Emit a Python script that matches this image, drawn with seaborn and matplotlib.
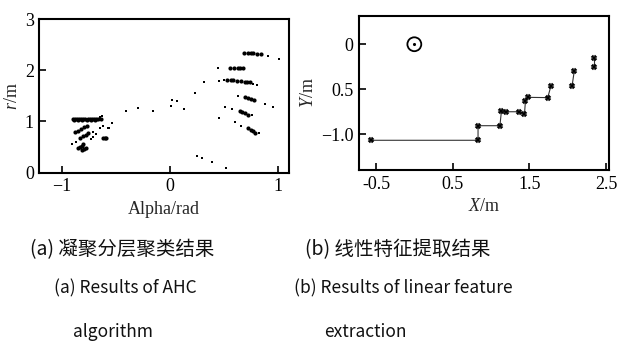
import matplotlib
matplotlib.use("Agg")
import matplotlib.pyplot as plt
import seaborn as sns
import pandas as pd

# ---------------- data: (a) AHC clustering result (alpha, r) ----------------
sparse_alpha = [1.009, 0.908, 0.446, 0.314, 0.455, 0.499, 0.77, 0.80, 0.231, 0.015, 0.062,
                0.006, 0.129, -0.154, -0.298, -0.406, -0.533, -0.563, 0.625, 0.877, 0.948,
                0.508, 0.57, 0.754, 0.452, 0.60, 0.653, 0.825, 0.246, 0.293, 0.39, 0.517,
                -0.646, -0.62, -0.57, -0.708, -0.683, -0.708, -0.73, -0.908, -0.868, -0.60,
                -0.65, -0.63]
sparse_r = [2.21, 2.28, 2.04, 1.78, 1.79, 1.81, 1.73, 1.71, 1.56, 1.42, 1.39,
            1.31, 1.24, 1.205, 1.27, 1.21, 0.965, 0.87, 1.50, 1.34, 1.29,
            1.29, 1.24, 1.13, 1.07, 0.98, 0.92, 0.77, 0.33, 0.28, 0.215, 0.10,
            0.87, 0.92, 0.87, 0.80, 0.75, 0.69, 0.65, 0.555, 0.59, 0.65,
            1.09, 1.10]

cluster_alpha = [-0.90, -0.88, -0.86, -0.84, -0.82, -0.80, -0.78, -0.76, -0.74, -0.72, -0.70, -0.68, -0.66, -0.64,
                 -0.89, -0.85, -0.81, -0.77, -0.73, -0.69,
                 -0.877, -0.85, -0.82, -0.795, -0.77,
                 -0.83, -0.80, -0.775, -0.755,
                 -0.846, -0.83, -0.815, -0.80,
                 -0.815, -0.795, -0.775,
                 -0.616, -0.60, -0.59,
                 0.68, 0.72, 0.75, 0.77, 0.80, 0.845,
                 0.555, 0.59, 0.63, 0.65, 0.675,
                 0.53, 0.56, 0.585, 0.62, 0.655, 0.69, 0.715, 0.74,
                 0.692, 0.72, 0.745, 0.776,
                 0.646, 0.67, 0.695, 0.723,
                 0.723, 0.745, 0.765, 0.785]
cluster_r = [1.05, 1.05, 1.05, 1.05, 1.05, 1.05, 1.05, 1.05, 1.05, 1.05, 1.05, 1.05, 1.05, 1.05,
             1.03, 1.03, 1.03, 1.03, 1.03, 1.03,
             0.79, 0.82, 0.85, 0.885, 0.915,
             0.67, 0.71, 0.745, 0.77,
             0.48, 0.51, 0.53, 0.555,
             0.44, 0.46, 0.48,
             0.67, 0.675, 0.68,
             2.33, 2.33, 2.33, 2.33, 2.325, 2.32,
             2.05, 2.05, 2.05, 2.05, 2.05,
             1.81, 1.805, 1.80, 1.79, 1.785, 1.775, 1.77, 1.765,
             1.47, 1.45, 1.435, 1.41,
             1.21, 1.185, 1.16, 1.13,
             0.87, 0.84, 0.81, 0.78]

# ---------------- data: (b) linear feature extraction (X, Y) ----------------
seg_id = [1] * 12 + [2] * 2 + [3] * 2
seg_x = [-0.565, 0.83, 0.83, 1.115, 1.135, 1.19, 1.37, 1.435, 1.448, 1.48, 1.738, 1.78,
         2.055, 2.084,
         2.344, 2.344]
seg_y = [-1.067, -1.067, -0.905, -0.905, -0.74, -0.75, -0.75, -0.773, -0.627, -0.59, -0.593, -0.463,
         -0.463, -0.297,
         -0.149, -0.249]
robot_x = [0.0]
robot_y = [0.0]

left_xticks = [-1, 0, 1]
left_xticklabels = ["\u22121", "0", "1"]
left_yticks = [0, 1, 2, 3]
right_xticks = [-0.5, 0.5, 1.5, 2.5]
right_xticklabels = ["-0.5", "0.5", "1.5", "2.5"]
right_yticks = [0, -0.5, -1.0]
right_yticklabels = ["0", "0.5", "\u22121.0"]

captions_cn = [
    ("(a) 凝聚分层聚类结果", 0.198, 0.305),
    ("(b) 线性特征提取结果", 0.643, 0.305),
]
captions_en = [
    ("(a) Results of AHC", 0.203, 0.198),
    ("(b) Results of linear feature", 0.652, 0.198),
    ("algorithm", 0.183, 0.075),
    ("extraction", 0.591, 0.075),
]

SERIF = ["Liberation Serif", "DejaVu Serif"]

sns.set_style("ticks")
plt.rcParams["font.family"] = SERIF
plt.rcParams["mathtext.fontset"] = "custom"
plt.rcParams["mathtext.it"] = "Liberation Serif:italic"
plt.rcParams["mathtext.rm"] = "Liberation Serif"

fig = plt.figure(figsize=(6.18, 3.59), dpi=100)
ax1 = fig.add_axes([0.0639, 0.519, 0.4037, 0.428])
ax2 = fig.add_axes([0.5814, 0.5265, 0.4045, 0.429])

# ---- left panel ----
df_sparse = pd.DataFrame({"alpha": sparse_alpha, "r": sparse_r})
df_cluster = pd.DataFrame({"alpha": cluster_alpha, "r": cluster_r})
sns.scatterplot(data=df_sparse, x="alpha", y="r", ax=ax1, color="black", s=2.5,
                linewidth=0, marker="s")
sns.scatterplot(data=df_cluster, x="alpha", y="r", ax=ax1, color="black", s=9,
                linewidth=0)
ax1.set_xlim(-1.205, 1.10)
ax1.set_ylim(0, 3)
ax1.set_xticks(left_xticks)
ax1.set_xticklabels(left_xticklabels)
ax1.set_yticks(left_yticks)
ax1.set_xlabel("Alpha/rad", fontsize=13, labelpad=4, family=SERIF)
ax1.set_ylabel("$r$/m", fontsize=13, labelpad=3)

# ---- right panel ----
df_seg = pd.DataFrame({"x": seg_x, "y": seg_y, "seg": seg_id})
sns.lineplot(data=df_seg, x="x", y="y", units="seg", estimator=None, sort=False,
             ax=ax2, color="#333333", linewidth=0.8, marker="X", markersize=3.8,
             markeredgecolor="black", markerfacecolor="black", markeredgewidth=0.3)
df_robot = pd.DataFrame({"x": robot_x, "y": robot_y})
sns.scatterplot(data=df_robot, x="x", y="y", ax=ax2, s=100, facecolor="none",
                edgecolor="black", linewidth=1.3)
sns.scatterplot(data=df_robot, x="x", y="y", ax=ax2, s=5, color="black", linewidth=0)
ax2.set_xlim(-0.717, 2.54)
ax2.set_ylim(-1.397, 0.314)
ax2.set_xticks(right_xticks)
ax2.set_xticklabels(right_xticklabels)
ax2.set_yticks(right_yticks)
ax2.set_yticklabels(right_yticklabels)
ax2.set_xlabel("$X$/m", fontsize=13, labelpad=4)
ax2.set_ylabel("$Y$/m", fontsize=13, labelpad=3)

for ax in (ax1, ax2):
    for sp in ax.spines.values():
        sp.set_visible(True)
        sp.set_linewidth(1.5)
        sp.set_color("black")
    ax.tick_params(direction="in", length=5, width=1.2, labelsize=13, colors="black",
                   pad=4, labelfontfamily="Liberation Serif")
    for lab in ax.get_xticklabels() + ax.get_yticklabels():
        lab.set_family(SERIF)
    ax.grid(False)

for text, x, y in captions_cn:
    fig.text(x, y, text, ha="center", va="center", fontsize=14,
             family=["Noto Sans CJK SC", "DejaVu Sans"], color="#111111")
for text, x, y in captions_en:
    fig.text(x, y, text, ha="center", va="center", fontsize=12.5,
             family=["Noto Sans CJK SC", "DejaVu Sans"], color="#111111")

fig.savefig("out.png", dpi=100)
